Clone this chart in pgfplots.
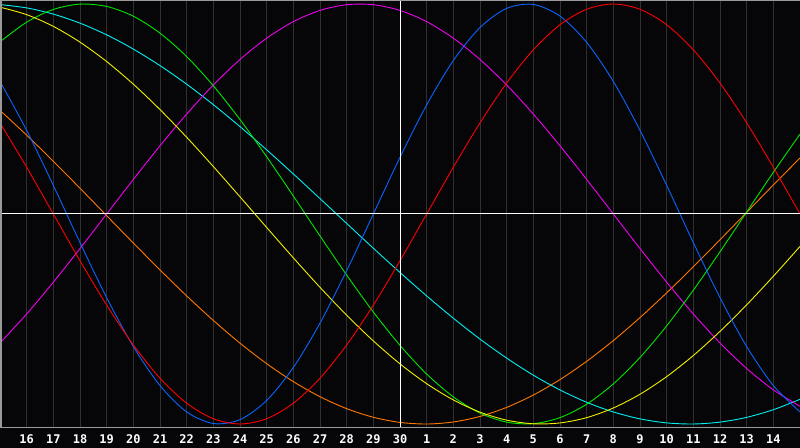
\documentclass[border=0pt]{standalone}
\usepackage{pgfplots}
\usepackage{pgfplotstable}
\pgfplotsset{compat=1.18}
\usepackage{fontspec}
\newfontfamily\monob{DejaVu Sans Mono}

\definecolor{bg}{HTML}{060609}
\definecolor{gridc}{HTML}{303030}
\definecolor{framec}{HTML}{9A9A9A}
\definecolor{cred}{HTML}{FF0000}
\definecolor{cblue}{HTML}{0A64FF}
\definecolor{cgreen}{HTML}{00E600}
\definecolor{ccyan}{HTML}{00F0F0}
\definecolor{cyellow}{HTML}{F0F000}
\definecolor{cmag}{HTML}{F000F0}
\definecolor{corange}{HTML}{FF7800}

% day offset d (0 = the 15th), then one column per cycle
\pgfplotstableread{
d  red     blue    green   mag     orange  yellow  cyan
0  0.4339  0.6311  0.8199 -0.6142  0.4932  0.9849  0.9972
1  0.2225  0.3984  0.9135 -0.4759  0.3754  0.9492  0.9814
2  0.0000  0.1362  0.9740 -0.3247  0.2512  0.8934  0.9518
3 -0.2225 -0.1362  0.9993 -0.1646  0.1227  0.8183  0.9087
4 -0.4339 -0.3984  0.9884  0.0000 -0.0079  0.7259  0.8531
5 -0.6235 -0.6311  0.9418  0.1646 -0.1383  0.6182  0.7853
6 -0.7818 -0.8170  0.8612  0.3247 -0.2664  0.4971  0.7066
7 -0.9010 -0.9423  0.7494  0.4759 -0.3899  0.3655  0.6181
8 -0.9749 -0.9977  0.6107  0.6142 -0.5068  0.2260  0.5207
9 -1.0000 -0.9791  0.4498  0.7357 -0.6150  0.0818  0.4161
10 -0.9749 -0.8879  0.2726  0.8372 -0.7127 -0.0642  0.3056
11 -0.9010 -0.7308  0.0856  0.9158 -0.7981 -0.2088  0.1908
12 -0.7818 -0.5196 -0.1045  0.9694 -0.8700 -0.3491  0.0734
13 -0.6235 -0.2698 -0.2909  0.9966 -0.9268 -0.4818 -0.0450
14 -0.4339  0.0000 -0.4667  0.9966 -0.9679 -0.6043 -0.1630
15 -0.2225  0.2698 -0.6255  0.9694 -0.9924 -0.7137 -0.2785
16  0.0000  0.5196 -0.7621  0.9158 -1.0000 -0.8080 -0.3901
17  0.2225  0.7308 -0.8708  0.8372 -0.9904 -0.8853 -0.4962
18  0.4339  0.8879 -0.9480  0.7357 -0.9639 -0.9436 -0.5956
19  0.6235  0.9791 -0.9911  0.6142 -0.9208 -0.9817 -0.6862
20  0.7818  0.9977 -0.9984  0.4759 -0.8620 -0.9990 -0.7675
21  0.9010  0.9423 -0.9695  0.3247 -0.7884 -0.9949 -0.8378
22  0.9749  0.8170 -0.9057  0.1646 -0.7015 -0.9697 -0.8966
23  1.0000  0.6311 -0.8090  0.0000 -0.6026 -0.9237 -0.9427
24  0.9749  0.3984 -0.6832 -0.1646 -0.4932 -0.8582 -0.9755
25  0.9010  0.1362 -0.5327 -0.3247 -0.3754 -0.7743 -0.9947
26  0.7818 -0.1362 -0.3628 -0.4759 -0.2512 -0.6738 -0.9999
27  0.6235 -0.3984 -0.1799 -0.6142 -0.1227 -0.5590 -0.9910
28  0.4339 -0.6311  0.0096 -0.7357  0.0079 -0.4324 -0.9683
29  0.2225 -0.8170  0.1985 -0.8372  0.1383 -0.2965 -0.9319
30  0.0000 -0.9423  0.3804 -0.9158  0.2664 -0.1543 -0.8825
}\cycles

\begin{document}
\begin{tikzpicture}
\fill[bg] (0,-20bp) rectangle (800bp,428bp);
\useasboundingbox (0,-20bp) rectangle (800bp,428bp);
\begin{axis}[
  at={(0,0)}, anchor=south west,
  scale only axis,
  width=800bp, height=428bp,
  xmin=0, xmax=30,
  ymin=-1.019, ymax=1.019,
  axis line style={draw=none},
  xtick={1,...,29},
  xticklabels={16,17,18,19,20,21,22,23,24,25,26,27,28,29,30,1,2,3,4,5,6,7,8,9,10,11,12,13,14},
  ytick=\empty,
  major tick length=0pt,
  xmajorgrids,
  grid style={gridc, line width=1bp},
  xticklabel style={anchor=base, yshift=-15.5bp, text=white,
    font=\monob\bfseries\fontsize{12}{12}\selectfont},
  every axis plot/.append style={line width=0.9bp, smooth, no marks},
]
\addplot[corange] table[x=d, y=orange] {\cycles};
\addplot[ccyan]   table[x=d, y=cyan]   {\cycles};
\addplot[cmag]    table[x=d, y=mag]    {\cycles};
\addplot[cgreen]  table[x=d, y=green]  {\cycles};
\addplot[cyellow] table[x=d, y=yellow] {\cycles};
\addplot[cblue]   table[x=d, y=blue]   {\cycles};
\addplot[cred]    table[x=d, y=red]    {\cycles};
\draw[white, line width=1bp] (axis cs:0,0) -- (axis cs:30,0);
\draw[white, line width=1bp] (axis cs:15,-1.019) -- (axis cs:15,1.019);
\end{axis}
\draw[framec, line width=1.5bp] (0.75bp,0) -- (0.75bp,427.25bp) -- (800bp,427.25bp);
\draw[framec, line width=1.5bp] (0,0.75bp) -- (800bp,0.75bp);
\end{tikzpicture}
\end{document}
